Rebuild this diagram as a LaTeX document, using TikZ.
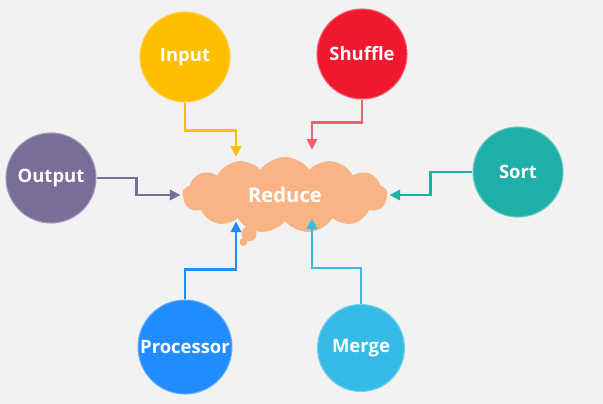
\documentclass[tikz,border=0pt]{standalone}
\usepackage{fontspec}
\setmainfont{Open Sans}
\usetikzlibrary{arrows.meta,calc,shapes.symbols}

\definecolor{bgGray}{RGB}{242,242,242}
\definecolor{cloudPeach}{RGB}{248,180,132}
\definecolor{cInput}{RGB}{255,190,0}
\definecolor{cShuffle}{RGB}{240,24,46}
\definecolor{lShuffle}{RGB}{242,96,108}
\definecolor{cOutput}{RGB}{122,110,152}
\definecolor{cSort}{RGB}{30,176,168}
\definecolor{cProc}{RGB}{32,140,255}
\definecolor{cMerge}{RGB}{52,188,230}

\begin{document}
\begin{tikzpicture}[
    stage/.style={circle, fill=#1, draw=#1!70!white, line width=0.6pt,
        minimum size=1.8cm, inner sep=0pt, text=white,
        font=\bfseries\fontsize{10.5}{12}\selectfont},
    flow/.style={draw=#1, line width=1.2pt, -{Triangle[width=6pt,length=6pt]}}
]
    % Background
    \fill[bgGray] (0,0) rectangle (12.06,8.08);
    \useasboundingbox (0,0) rectangle (12.06,8.08);

    % Cloud
    \node[cloud, cloud puffs=13, cloud puff arc=110, aspect=2.7, fill=cloudPeach,
        minimum width=4.1cm, minimum height=1.52cm, inner sep=0pt, text=white,
        font=\bfseries\fontsize{11.5}{13}\selectfont] (reduce) at (5.70,4.18) {Reduce};
    \fill[cloudPeach] (4.98,3.40) circle(0.15);
    \fill[cloudPeach] (4.87,3.24) circle(0.08);

    % Stages
    \node[stage=cInput] (input) at (3.70,6.94) {Input};
    \node[stage=cShuffle] (shuffle) at (7.24,7.00) {Shuffle};
    \node[stage=cOutput] (output) at (1.02,4.52) {Output};
    \node[stage=cSort] (sort) at (10.36,4.64) {Sort};
    \node[stage=cProc, minimum size=1.88cm] (processor) at (3.70,1.14) {Processor};
    \node[stage=cMerge, minimum size=1.74cm] (merge) at (7.22,1.12) {Merge};

    % Connectors
    \draw[flow=cInput] (input.south) -- ++(0,-0.56) -| ([xshift=-0.98cm]reduce.north);
    \draw[flow=lShuffle] (shuffle.south) -- ++(0,-0.46) -| ([xshift=0.54cm,yshift=0.14cm]reduce.north);
    \draw[flow=cOutput] (output.east) -- ++(0.8,0) |- ([xshift=-1pt]reduce.west);
    \draw[flow=cSort] (sort.west) -- ++(-0.84,0) |- ([xshift=1pt]reduce.east);
    \draw[flow=cProc] (processor.north) -- ++(0,0.6) -| ([xshift=-0.98cm]reduce.south);
    \draw[flow=cMerge] (merge.north) -- ++(0,0.72) -| ([xshift=0.54cm,yshift=0.06cm]reduce.south);
\end{tikzpicture}
\end{document}
